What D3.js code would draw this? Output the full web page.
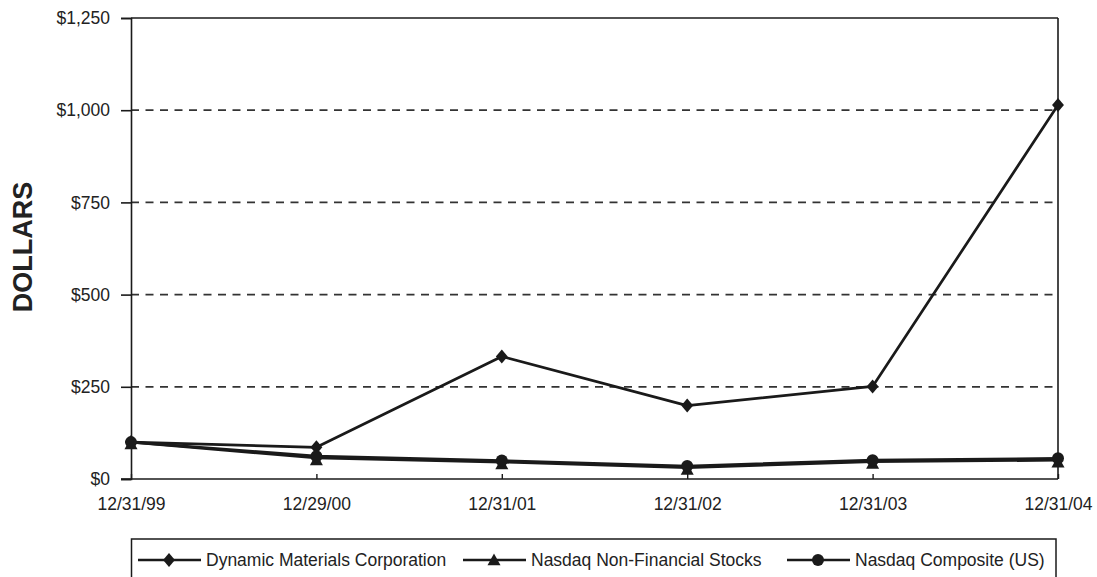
<!DOCTYPE html>
<html>
<head>
<meta charset="utf-8">
<script src="https://cdn.jsdelivr.net/npm/d3@7"></script>
<style>
  html, body { margin: 0; padding: 0; background: #fff; }
  svg { display: block; font-family: "Liberation Sans", Arial, Helvetica, sans-serif; }
</style>
</head>
<body>
<svg id="chart" width="1097" height="577"></svg>
<script>
const categories = ["12/31/99", "12/29/00", "12/31/01", "12/31/02", "12/31/03", "12/31/04"];
const dmcValues = [100, 86, 332, 199, 251, 1014];
const nonFinValues = [100, 57, 46, 31, 47, 51];
const compositeValues = [100, 62, 50, 35, 51, 56];
const yTicks = [0, 250, 500, 750, 1000, 1250];
const seriesNames = ["Dynamic Materials Corporation", "Nasdaq Non-Financial Stocks", "Nasdaq Composite (US)"];

const series = [
  { name: seriesNames[0], values: dmcValues, marker: "diamond" },
  { name: seriesNames[1], values: nonFinValues, marker: "triangle" },
  { name: seriesNames[2], values: compositeValues, marker: "circle" }
];

const svg = d3.select("#chart");
const pLeft = 131, pRight = 1058, pTop = 18, pBottom = 479;
const ink = "#1a1a1a";

const x = d3.scalePoint().domain(categories).range([pLeft, pRight]);
const y = d3.scaleLinear().domain([0, 1250]).range([pBottom, pTop]);

// gridlines (dashed)
svg.append("g").selectAll("line").data(yTicks.filter(t => t > 0 && t < 1250)).join("line")
  .attr("x1", pLeft).attr("x2", pRight)
  .attr("y1", d => y(d)).attr("y2", d => y(d))
  .attr("stroke", "#333").attr("stroke-width", 1.7).attr("stroke-dasharray", "8,6.5");

// frame top & right
svg.append("line").attr("x1", pLeft).attr("x2", pRight).attr("y1", pTop).attr("y2", pTop)
  .attr("stroke", ink).attr("stroke-width", 1.6);
svg.append("line").attr("x1", pRight).attr("x2", pRight).attr("y1", pTop).attr("y2", pBottom)
  .attr("stroke", ink).attr("stroke-width", 1.6);

// y axis
const yAxis = svg.append("g").attr("transform", `translate(${pLeft},0)`)
  .call(d3.axisLeft(y).tickValues(yTicks).tickSize(10).tickPadding(11)
    .tickFormat(d => "$" + d3.format(",")(d)));
yAxis.select(".domain").attr("stroke", ink).attr("stroke-width", 1.6);
yAxis.selectAll(".tick line").attr("stroke", ink).attr("stroke-width", 1.6);
yAxis.selectAll("text").attr("font-size", 17.5).attr("fill", "#222")
  .attr("font-family", "'Liberation Sans', Arial, sans-serif");

// x axis
const xAxis = svg.append("g").attr("transform", `translate(0,${pBottom})`)
  .call(d3.axisBottom(x).tickSizeInner(-5).tickSizeOuter(0).tickPadding(19));
xAxis.select(".domain").attr("stroke", ink).attr("stroke-width", 1.6)
  .attr("d", `M${pLeft - 10},0H${pRight}`);
xAxis.selectAll(".tick line").attr("stroke", ink).attr("stroke-width", 1.4);
xAxis.selectAll("text").attr("font-size", 17.5).attr("fill", "#222")
  .attr("font-family", "'Liberation Sans', Arial, sans-serif");

// y title
svg.append("text")
  .attr("transform", `translate(32,247) rotate(-90)`)
  .attr("text-anchor", "middle")
  .attr("font-size", 27).attr("font-weight", "bold").attr("fill", "#222")
  .text("DOLLARS");

function markerPath(type, size) {
  if (type === "diamond") {
    const s = size;
    return `M0,${-s}L${s * 0.85},0L0,${s}L${-s * 0.85},0Z`;
  }
  if (type === "triangle") {
    const s = size;
    return `M0,${-s}L${s},${s * 0.8}L${-s},${s * 0.8}Z`;
  }
  return d3.symbol(d3.symbolCircle, Math.PI * size * size)();
}

const line = d3.line().x((d, i) => x(categories[i])).y(d => y(d));

series.forEach(s => {
  svg.append("path").datum(s.values)
    .attr("d", line).attr("fill", "none")
    .attr("stroke", ink).attr("stroke-width", 2.7).attr("stroke-linejoin", "round");
});
series.forEach(s => {
  const off = s.marker === "triangle" ? 2 : 0;
  const size = s.marker === "circle" ? 6 : (s.marker === "triangle" ? 6.5 : 7);
  svg.append("g").selectAll("path").data(s.values).join("path")
    .attr("transform", (d, i) => `translate(${x(categories[i])},${y(d) + off})`)
    .attr("d", markerPath(s.marker, size))
    .attr("fill", ink);
});

// legend
const lg = svg.append("g");
lg.append("rect").attr("x", 131.5).attr("y", 539).attr("width", 924.5).attr("height", 40)
  .attr("fill", "none").attr("stroke", ink).attr("stroke-width", 1.5);
const legendItems = [
  { name: seriesNames[0], marker: "diamond", x0: 138 },
  { name: seriesNames[1], marker: "triangle", x0: 463 },
  { name: seriesNames[2], marker: "circle", x0: 787 }
];
legendItems.forEach(it => {
  const cy = 560;
  lg.append("line").attr("x1", it.x0).attr("x2", it.x0 + 63).attr("y1", cy).attr("y2", cy)
    .attr("stroke", ink).attr("stroke-width", 2.4);
  const size = it.marker === "circle" ? 6 : (it.marker === "triangle" ? 6.5 : 7);
  lg.append("path").attr("transform", `translate(${it.x0 + 31},${cy})`)
    .attr("d", markerPath(it.marker, size)).attr("fill", ink);
  lg.append("text").attr("x", it.x0 + 68).attr("y", cy).attr("dy", "0.35em")
    .attr("font-size", 17.5).attr("fill", "#222").text(it.name);
});
</script>
</body>
</html>
